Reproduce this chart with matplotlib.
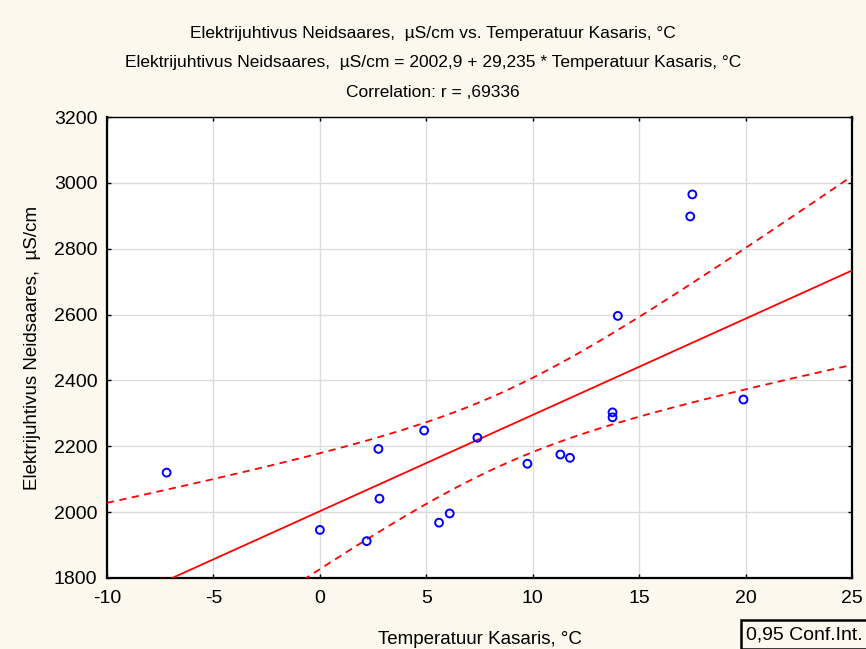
import numpy as np
import matplotlib.pyplot as plt

plt.rcParams['font.family'] = ['Liberation Sans', 'DejaVu Sans']
plt.rcParams['axes.unicode_minus'] = False

# Temperatuur Kasaris (x) vs Elektrijuhtivus Neidsaares (y)
temp = [-7.2, 0.0, 2.2, 2.75, 2.8, 4.9, 5.6, 6.1, 7.4, 9.75,
        11.3, 11.75, 13.75, 13.75, 14.0, 17.4, 17.5, 19.9]
cond = [2120, 1946, 1912, 2192, 2041, 2248, 1968, 1996, 2226, 2147,
        2175, 2165, 2303, 2288, 2596, 2898, 2965, 2342]

intercept = 2002.9
slope = 29.235
t_crit = 2.1199  # t(0.975, df=16)

xticks = [-10, -5, 0, 5, 10, 15, 20, 25]
yticks = [1800, 2000, 2200, 2400, 2600, 2800, 3000, 3200]

x = np.array(temp)
y = np.array(cond)
n = len(x)
resid = y - (intercept + slope * x)
s = np.sqrt(np.sum(resid ** 2) / (n - 2))
sxx = np.sum((x - x.mean()) ** 2)

xs = np.linspace(-10, 25, 200)
fit = intercept + slope * xs
half = t_crit * s * np.sqrt(1.0 / n + (xs - x.mean()) ** 2 / sxx)

bg = '#fdf8ee'
fig = plt.figure(figsize=(8.66, 6.49), dpi=100, facecolor=bg)
ax = fig.add_axes([0.1236, 0.1094, 0.8602, 0.7103])
ax.set_facecolor('white')

ax.plot(xs, fit, color='red', lw=1.3, zorder=3)
ax.plot(xs, fit + half, color='red', lw=1.3, ls=(0, (4, 3)), zorder=3)
ax.plot(xs, fit - half, color='red', lw=1.3, ls=(0, (4, 3)), zorder=3)
ax.scatter(x, y, s=32, facecolors='none', edgecolors='blue', linewidths=1.4, zorder=4)

ax.set_xlim(-10, 25)
ax.set_ylim(1800, 3200)
ax.set_xticks(xticks)
ax.set_yticks(yticks)
ax.grid(True, color='#dcdcdc', lw=1.0)
ax.set_axisbelow(True)
ax.tick_params(direction='in', length=3, width=1, labelsize=14, pad=7,
               right=True, top=True)
ax.tick_params(axis='x', pad=9)

for side in ['left', 'right', 'bottom']:
    ax.spines[side].set_linewidth(1.6)
ax.spines['top'].set_linewidth(1.0)

ax.set_xlabel('Temperatuur Kasaris, °C', fontsize=13.5, labelpad=17)
ax.set_ylabel('Elektrijuhtivus Neidsaares,  µS/cm', fontsize=13.5, labelpad=9)

fig.text(0.5, 0.949, 'Elektrijuhtivus Neidsaares,  µS/cm vs. Temperatuur Kasaris, °C',
         ha='center', va='center', fontsize=12.5)
fig.text(0.5, 0.903, 'Elektrijuhtivus Neidsaares,  µS/cm = 2002,9 + 29,235 * Temperatuur Kasaris, °C',
         ha='center', va='center', fontsize=12.5)
fig.text(0.5, 0.857, 'Correlation: r = ,69336',
         ha='center', va='center', fontsize=12.5)

fig.text(0.862, 0.009, '0,95 Conf.Int.', fontsize=14, ha='left', va='bottom',
         bbox=dict(boxstyle='square,pad=0.3', facecolor=bg, edgecolor='black', lw=1.8))

fig.savefig('out.png', dpi=100, facecolor=bg)
